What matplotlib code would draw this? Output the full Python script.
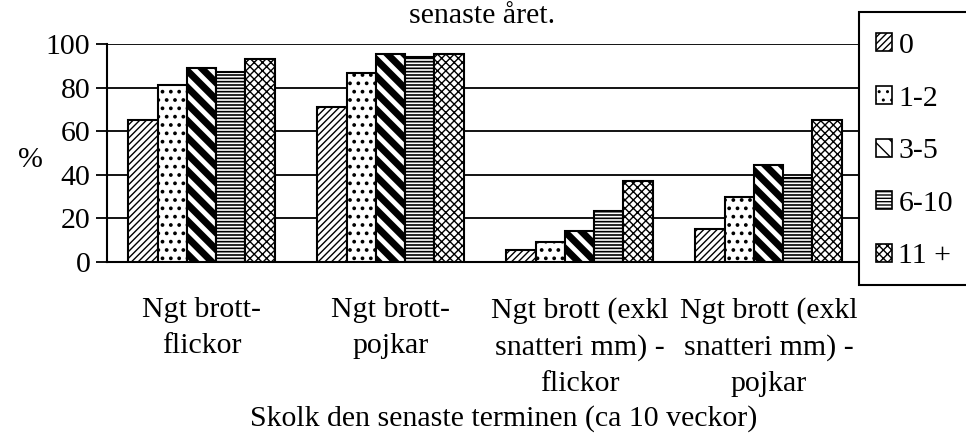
import matplotlib
matplotlib.use("Agg")
import matplotlib.pyplot as plt
from matplotlib.patches import Rectangle, Patch
import numpy as np

categories = ["Ngt brott-\nflickor", "Ngt brott-\npojkar",
              "Ngt brott (exkl\nsnatteri mm) -\nflickor", "Ngt brott (exkl\nsnatteri mm) -\npojkar"]
series_names = ["0", "1-2", "3-5", "6-10", "11 +"]
values = {
    "0":    [65, 71, 5.5, 15],
    "1-2":  [81, 86.5, 9, 30],
    "3-5":  [89, 95.5, 14, 44.5],
    "6-10": [87, 94, 23.5, 38.5],
    "11 +": [93, 95.5, 37, 65],
}
yticks = [0, 20, 40, 60, 80, 100]

plt.rcParams['font.family'] = ['Liberation Serif', 'DejaVu Serif']
plt.rcParams['font.size'] = 21.5

fig = plt.figure(figsize=(9.66, 4.34), dpi=100)
ax = fig.add_axes([107/966, 1-262/434, 756/966, 218/434])

hatches = ['/////', '..', '\\\\', '-----', 'xxxx']
hlw = [1.0, 1.5, 5.0, 1.2, 1.0]
bw = 0.155
x = np.arange(len(categories))
for i, name in enumerate(series_names):
    bars = ax.bar(x + (i - 2) * bw, values[name], width=bw, facecolor='white',
                  edgecolor='black', hatch=hatches[i], linewidth=1.5, zorder=3)
    for b in bars:
        if hasattr(b, 'set_hatch_linewidth'):
            b.set_hatch_linewidth(hlw[i])

ax.set_xlim(-0.5, 3.5)
ax.set_ylim(0, 100)
ax.set_yticks(yticks)
ax.set_yticklabels([str(v) for v in yticks])
for v in yticks[1:]:
    ax.axhline(v, color='black', linewidth=1.3, zorder=1)
ax.set_xticks(x)
ax.set_xticklabels(categories, linespacing=1.5)
ax.tick_params(axis='x', length=0, pad=25)
ax.tick_params(axis='y', length=8, width=1.3, direction='out', pad=4)
for s in ['top', 'right']:
    ax.spines[s].set_visible(False)
ax.spines['left'].set_linewidth(1.5)
ax.spines['bottom'].set_linewidth(1.5)

fig.text(30/966, 1-160/434, "%", ha='center', va='center')
fig.text(482/966, 1-16/434, "senaste året.", ha='center', va='center')
fig.text(504/966, 1-419/434, "Skolk den senaste terminen (ca 10 veckor)", ha='center', va='center')

# legend box
fig.patches.append(Rectangle((859/966, 1-285/434), 200/966, 273/434, transform=fig.transFigure,
                             facecolor='white', edgecolor='black', linewidth=1.5, zorder=5))
handles = []
for i, name in enumerate(series_names):
    p = Patch(facecolor='white', edgecolor='black', hatch=hatches[i], linewidth=1.2)
    if hasattr(p, 'set_hatch_linewidth'):
        p.set_hatch_linewidth(min(hlw[i], 3.0))
    handles.append(p)
leg = fig.legend(handles, series_names, loc='upper left', bbox_to_anchor=(876/966, 1-33/434),
                 frameon=False, handlelength=0.55, handleheight=0.55, handletextpad=0.2,
                 labelspacing=0.89, borderaxespad=0, borderpad=0)
leg.set_zorder(6)

fig.savefig("out.png", dpi=100)
